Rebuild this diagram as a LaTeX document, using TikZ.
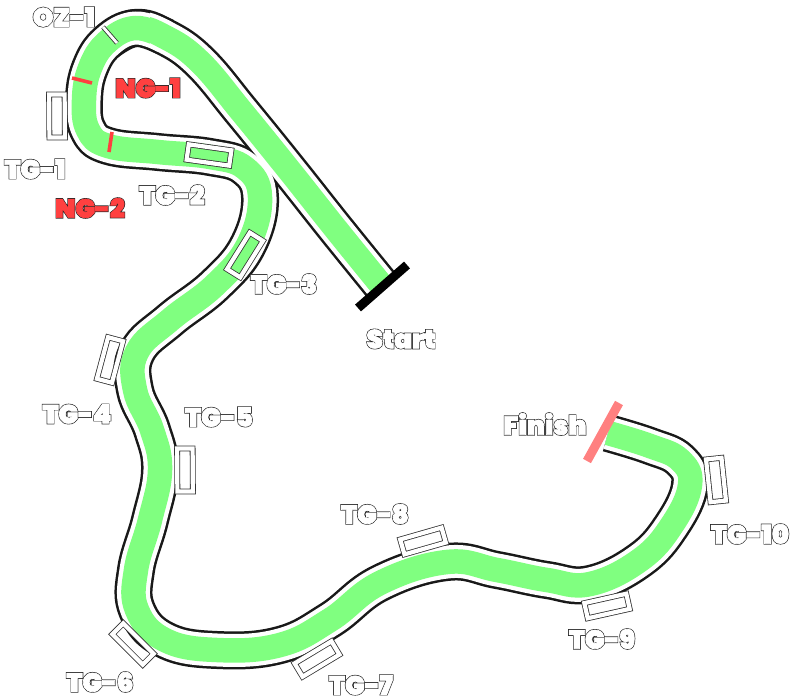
\documentclass[tikz,border=0pt]{standalone}
\usepackage{fontspec}
\setmainfont{Poppins}[BoldFont={Poppins Black}]
\definecolor{roadgreen}{HTML}{80FF80}
\definecolor{ngred}{HTML}{FF4040}
\definecolor{finishred}{HTML}{FF8080}
\definecolor{edgegrey}{HTML}{333333}
% outlined heavy text: a dark stroke under the fill colour
\newcommand\strokedtext[2]{\leavevmode\rlap{\special{pdf:code q 1 Tr 2.0 w 0.15 G}#2\special{pdf:code Q}}\special{pdf:code q 2 Tr 0.7 w #1 RG}#2\special{pdf:code Q}}
\newcommand\legA{plot[smooth,tension=0.7] coordinates {(382,286) (335,228) (289,170) (242,112) (200,62) (165,37) (135,28) (107,42)}}
\newcommand\legB{plot[smooth,tension=0.7] coordinates {(165,37) (135,28) (107,42) (90,68) (84,100) (88,130) (108,146) (158,152) (210,157) (245,168) (260,197) (248,245) (215,285) (170,320) (137,352) (135,390) (152,430) (160,470) (150,520) (136,570) (137,610) (165,640) (217,650) (280,645) (330,620) (380,583) (447,562) (497,570) (547,580) (590,584) (640,560) (672,525) (690,485) (680,460) (650,446) (608,433)}}
\tikzset{
  x=1pt,y=-1pt,
  road/.style={line join=round,line cap=butt},
  gaugebox/.style={draw=edgegrey,line width=0.8pt,double=white,double distance=4.2pt,rectangle,inner sep=0pt,minimum width=43pt,minimum height=15.5pt},
  lab/.style={inner sep=0pt,font=\fontsize{26}{26}\selectfont\bfseries,text=white},
  nglab/.style={inner sep=0pt,font=\fontsize{26}{26}\selectfont\bfseries,text=ngred},
}
\begin{document}
\begin{tikzpicture}
\useasboundingbox (0,0) rectangle (800,700);
% road, layered
\draw[road,line width=38pt,black!90] \legA;
\draw[road,line width=38pt,black!90] \legB;
\draw[road,line width=33pt,white] \legB;
\draw[road,line width=24.5pt,roadgreen] \legB;
\begin{scope}
\clip (150,0) rectangle (800,700);
\draw[road,line width=33pt,white] \legA;
\draw[road,line width=24.5pt,roadgreen] \legA;
\end{scope}
% start and finish
\coordinate (s1) at (358,308); \coordinate (s2) at (407,265);
\draw[line width=9pt,black] (s1) -- (s2);
\coordinate (f1) at (619,403); \coordinate (f2) at (587,461);
\draw[line width=9pt,finishred] (f1) -- (f2);
% marks
\coordinate (oz1a) at (103,27); \coordinate (oz1b) at (117,43);
\draw[line width=4.5pt,edgegrey] (oz1a) -- (oz1b);
\draw[line width=2.8pt,white] (oz1a) -- (oz1b);
\coordinate (ng1a) at (72,78); \coordinate (ng1b) at (92,83);
\draw[line width=3.6pt,ngred] (ng1a) -- (ng1b);
\coordinate (ng2a) at (112,132); \coordinate (ng2b) at (109,152);
\draw[line width=3.6pt,ngred] (ng2a) -- (ng2b);
% gauges
\node[gaugebox,rotate=-89.6] (g1) at (57,116) {};
\node[gaugebox,rotate=-8] (g2) at (209,155) {};
\node[gaugebox,rotate=-122] (g3) at (245,255) {};
\node[gaugebox,rotate=-105] (g4) at (110,360) {};
\node[gaugebox,rotate=-89.6] (g5) at (185,470) {};
\node[gaugebox,rotate=-45] (g6) at (133,644) {};
\node[gaugebox,rotate=31] (g7) at (317,659) {};
\node[gaugebox,rotate=16] (g8) at (423,541) {};
\node[gaugebox,rotate=12.6] (g9) at (607,606) {};
\node[gaugebox,rotate=-84] (g10) at (716,480) {};
% labels
\node[lab] (loz) at (64,17) {\strokedtext{1 1 1}{OZ-1}};
\node[nglab] (lng1) at (148,88) {\strokedtext{1 .25 .25}{NG-1}};
\node[nglab] (lng2) at (90,208) {\strokedtext{1 .25 .25}{NG-2}};
\node[lab] (l1) at (35,169) {\strokedtext{1 1 1}{TG-1}};
\node[lab] (l2) at (172,195) {\strokedtext{1 1 1}{TG-2}};
\node[lab] (l3) at (284,284) {\strokedtext{1 1 1}{TG-3}};
\node[lab] (lstart) at (401,339) {\strokedtext{1 1 1}{Start}};
\node[lab] (l4) at (77,414) {\strokedtext{1 1 1}{TG-4}};
\node[lab] (l5) at (219,417) {\strokedtext{1 1 1}{TG-5}};
\node[lab] (lfin) at (545,424) {\strokedtext{1 1 1}{Finish}};
\node[lab] (l8) at (375,514) {\strokedtext{1 1 1}{TG-8}};
\node[lab] (l9) at (602,639) {\strokedtext{1 1 1}{TG-9}};
\node[lab] (l10) at (750,534) {\strokedtext{1 1 1}{TG-10}};
\node[lab] (l6) at (100,682) {\strokedtext{1 1 1}{TG-6}};
\node[lab] (l7) at (361,685) {\strokedtext{1 1 1}{TG-7}};
\end{tikzpicture}
\end{document}
